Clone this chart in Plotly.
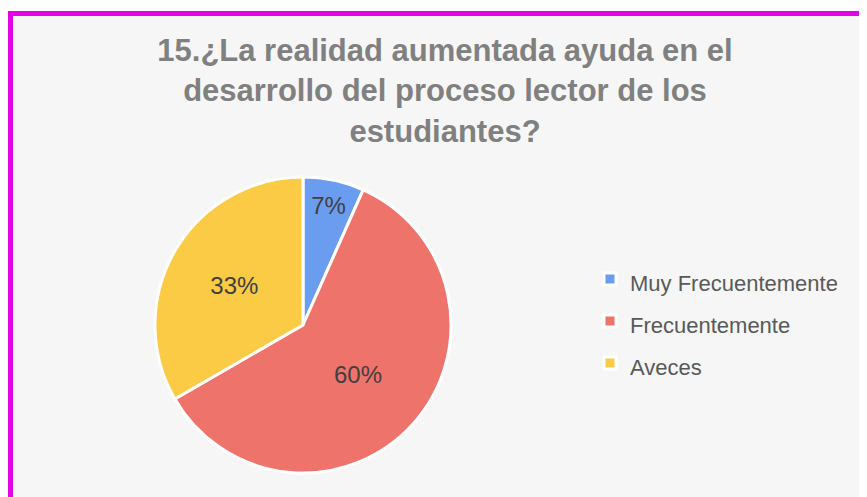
import plotly.graph_objects as go

labels = ["Muy Frecuentemente", "Frecuentemente", "Aveces"]
values = [1, 9, 5]
colors = ["#6a9df0", "#ee736b", "#fccb45"]
title_text = "15.¿La realidad aumentada ayuda en el<br>desarrollo del proceso lector de los<br>estudiantes?"

# the page body adds an 8px margin, so the figure is 8px smaller
W, H = 859, 489

legend_labels = ['<span style="font-size:22px">' + l + '</span>' for l in labels]

fig = go.Figure(go.Pie(
    labels=legend_labels,
    values=values,
    sort=False,
    direction="clockwise",
    rotation=0,
    marker=dict(colors=colors, line=dict(color="white", width=3)),
    texttemplate="%{percent:.0%}",
    textposition="inside",
    insidetextorientation="horizontal",
    textfont=dict(family="Liberation Sans, Arial", size=24, color="#404040"),
    hoverinfo="label+percent",
    domain=dict(x=[147 / W, 443 / W], y=[24 / H, 320 / H]),
))

fig.update_layout(
    width=W, height=H,
    margin=dict(l=0, r=0, t=0, b=0),
    paper_bgcolor="white",
    font=dict(family="Liberation Sans, Arial"),
    uniformtext=dict(minsize=24, mode="show"),
    title=dict(
        text="<b>" + title_text + "</b>",
        x=437 / W, xanchor="center",
        y=1 - 53 / H, yanchor="top", yref="container",
        font=dict(family="Liberation Sans, Arial", size=31, color="#808080"),
    ),
    legend=dict(
        x=582 / W, xanchor="left",
        y=1 - 245 / H, yanchor="top",
        bgcolor="rgba(0,0,0,0)",
        font=dict(family="Liberation Sans, Arial", size=30, color="#595959"),
    ),
    shapes=[
        dict(type="rect", xref="paper", yref="paper", layer="below",
             x0=5 / W, x1=1, y0=0, y1=1 - 8 / H,
             fillcolor="#f6f6f6", line=dict(width=0)),
        dict(type="rect", xref="paper", yref="paper", layer="above",
             x0=0, x1=1, y0=1 - 8 / H, y1=1 - 3 / H,
             fillcolor="#e600e6", line=dict(width=0)),
        dict(type="rect", xref="paper", yref="paper", layer="above",
             x0=0, x1=5 / W, y0=0, y1=1 - 3 / H,
             fillcolor="#e600e6", line=dict(width=0)),
    ],
)

fig.write_html("out.html")
